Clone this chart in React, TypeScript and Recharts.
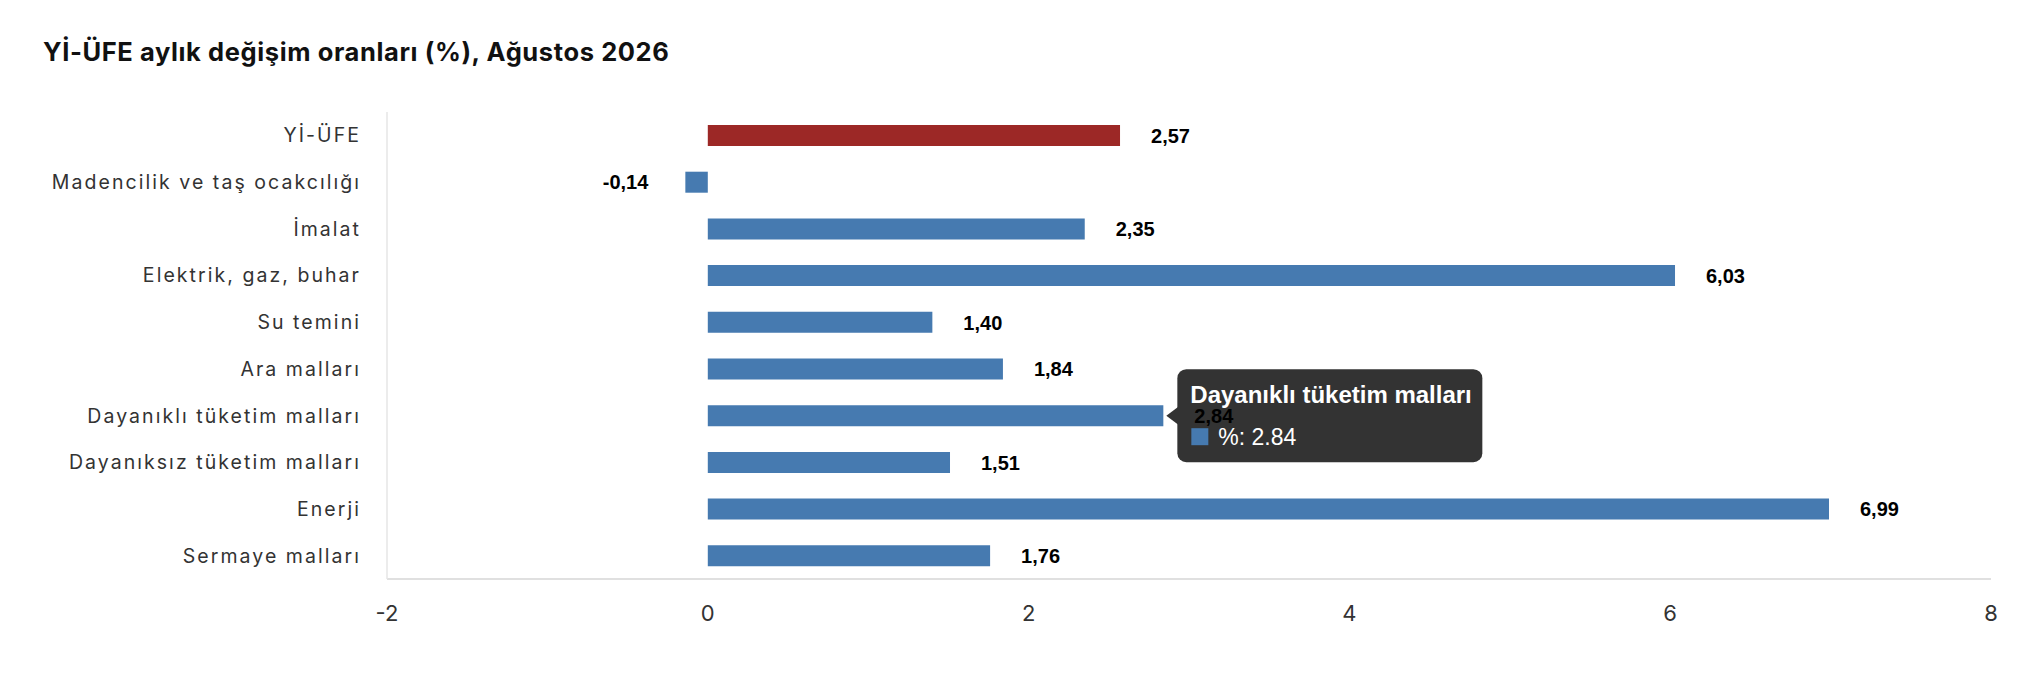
import React from 'react';
import { BarChart, Bar, XAxis, YAxis, Cell, LabelList } from 'recharts';

const title = 'Yİ-ÜFE aylık değişim oranları (%), Ağustos 2026';
const categories = [
  'Yİ-ÜFE',
  'Madencilik ve taş ocakcılığı',
  'İmalat',
  'Elektrik, gaz, buhar',
  'Su temini',
  'Ara malları',
  'Dayanıklı tüketim malları',
  'Dayanıksız tüketim malları',
  'Enerji',
  'Sermaye malları',
];
const values = [2.57, -0.14, 2.35, 6.03, 1.4, 1.84, 2.84, 1.51, 6.99, 1.76];
const xTicks = [-2, 0, 2, 4, 6, 8];
const seriesName = '%';
const highlightIndex = 0;
const tooltipIndex = 6;

const BLUE = '#467AB0';
const RED = '#9C2826';

const data = categories.map((name, i) => ({ name, value: values[i] }));

const fmt = (v: number) => v.toFixed(2).replace('.', ',');

const getBox = (props: any) => {
  const vb = props.viewBox && typeof props.viewBox.x === 'number' ? props.viewBox : props;
  const x = Number(vb.x);
  const w = Number(vb.width);
  const y = Number(vb.y);
  const h = Number(vb.height);
  return { left: Math.min(x, x + w), right: Math.max(x, x + w), cy: y + h / 2 };
};

const ValueLabel = (props: any) => {
  const { left, right, cy } = getBox(props);
  const v = Number(props.value);
  const neg = v < 0;
  return (
    <text
      x={neg ? left - 37 : right + 31}
      y={cy}
      dy="0.36em"
      textAnchor={neg ? 'end' : 'start'}
      fontFamily='"Liberation Sans", Arial, sans-serif'
      fontWeight="bold"
      fontSize={20}
      fill="#000"
    >
      {fmt(v)}
    </text>
  );
};

const TooltipBox = (props: any) => {
  if (props.index !== tooltipIndex) return null;
  const { right, cy } = getBox(props);
  const bx = right + 14;
  const w = 305;
  const h = 93;
  return (
    <g>
      <rect x={bx} y={cy - h / 2} width={w} height={h} rx={9} ry={9} fill="#333333" />
      <path d={`M${bx + 1},${cy - 9} L${bx - 11},${cy} L${bx + 1},${cy + 9} Z`} fill="#333333" />
      <text
        x={bx + 13}
        y={cy - 13}
        fill="#fff"
        fontFamily='"Liberation Sans", Arial, sans-serif'
        fontWeight="bold"
        fontSize={24}
      >
        {categories[tooltipIndex]}
      </text>
      <rect x={bx + 14} y={cy + 12.5} width={17} height={17} fill={BLUE} />
      <text
        x={bx + 41}
        y={cy + 29}
        fill="#fff"
        fontFamily='"Liberation Sans", Arial, sans-serif'
        fontSize={23}
      >
        {`${seriesName}: ${values[tooltipIndex]}`}
      </text>
    </g>
  );
};

const CategoryTick = (props: any) => {
  const { x, y, payload } = props;
  return (
    <text
      x={x}
      y={y}
      dy="0.36em"
      textAnchor="end"
      fontFamily="Inter, sans-serif"
      fontSize={19.5}
      fill="#333"
      letterSpacing={2.05}
    >
      {payload.value}
    </text>
  );
};

export default function App() {
  return (
    <div style={{ position: 'relative', width: 2026, height: 682 }}>
      <div
        style={{
          position: 'absolute',
          left: 35,
          top: 32,
          fontFamily: 'Inter, sans-serif',
          fontWeight: 700,
          fontSize: 25.5,
          lineHeight: '23px',
          letterSpacing: '0.6px',
          color: '#111',
          whiteSpace: 'nowrap',
        }}
      >
        {title}
      </div>
      <BarChart
        width={2026}
        height={682}
        data={data}
        layout="vertical"
        margin={{ top: 104, right: 43, bottom: 71, left: 39 }}
      >
        <XAxis
          type="number"
          domain={[-2, 8]}
          ticks={xTicks}
          allowDataOverflow
          tickLine={false}
          tickSize={0}
          tickMargin={26}
          height={40}
          axisLine={{ stroke: '#e0e0e0', strokeWidth: 2 }}
          tick={{ fontFamily: 'Inter, sans-serif', fontSize: 22, fill: '#333' }}
        />
        <YAxis
          type="category"
          dataKey="name"
          width={340}
          tickLine={false}
          tickSize={0}
          tickMargin={26}
          interval={0}
          axisLine={{ stroke: '#e6e6e6', strokeWidth: 1.5 }}
          tick={CategoryTick}
        />
        <Bar dataKey="value" barSize={21} isAnimationActive={false}>
          {data.map((d, i) => (
            <Cell key={d.name} fill={i === highlightIndex ? RED : BLUE} />
          ))}
          <LabelList dataKey="value" content={TooltipBox} />
          <LabelList dataKey="value" content={ValueLabel} />
        </Bar>
      </BarChart>
    </div>
  );
}
